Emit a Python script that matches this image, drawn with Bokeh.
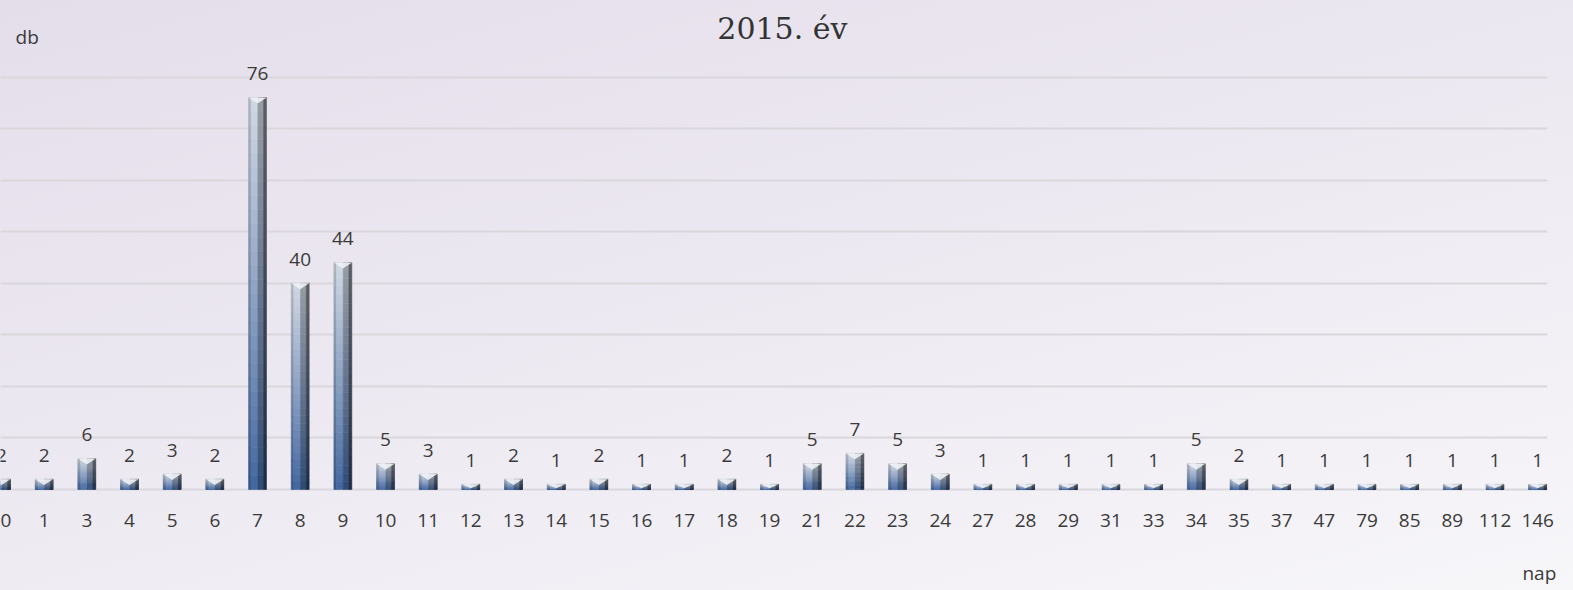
import numpy as np
from bokeh.plotting import figure
from bokeh.models import FixedTicker, Label, ColumnDataSource, LinearAxis
from bokeh.core.properties import value
from bokeh.embed import file_html
from bokeh.resources import INLINE

# ---- data ----
categories = [0, 1, 3, 4, 5, 6, 7, 8, 9, 10, 11, 12, 13, 14, 15, 16, 17, 18, 19,
              21, 22, 23, 24, 27, 28, 29, 31, 33, 34, 35, 37, 47, 79, 85, 89, 112, 146]
counts = [2, 2, 6, 2, 3, 2, 76, 40, 44, 5, 3, 1, 2, 1, 2, 1, 1, 2, 1,
          5, 7, 5, 3, 1, 1, 1, 1, 1, 5, 2, 1, 1, 1, 1, 1, 1, 1]
title_text = "2015. év"
y_label = "db"
x_label = "nap"
grid_values = [0, 10, 20, 30, 40, 50, 60, 70, 80]

n = len(categories)
xi = np.arange(n)
W = 0.42

p = figure(width=1573, height=590, output_backend="svg", toolbar_location=None,
           x_range=(-0.023, 36.23), y_range=(-0.39, 94.84),
           min_border_left=0, min_border_right=26, min_border_top=0, min_border_bottom=99)
p.background_fill_alpha = 0
p.border_fill_alpha = 0
p.outline_line_color = None
p.styles = {"background": "linear-gradient(165deg, #e4deea 0%, #ece8f1 45%, #f7f6f9 100%)"}

# grid
p.xgrid.visible = False
p.ygrid.ticker = FixedTicker(ticks=grid_values)
p.ygrid.grid_line_color = "#d9d7dc"
p.ygrid.grid_line_width = 2
p.yaxis.visible = False

TXT = "#3a3a3a"

# x axis
p.xaxis.ticker = FixedTicker(ticks=list(range(n)))
p.xaxis.major_label_overrides = {i: str(c) for i, c in enumerate(categories)}
p.xaxis.axis_line_color = None
p.xaxis.major_tick_line_color = None
p.xaxis.minor_tick_line_color = None
p.xaxis.major_label_text_font = "Open Sans"
p.xaxis.major_label_text_font_size = "19px"
p.xaxis.major_label_text_color = TXT
p.xaxis.major_label_standoff = 16

# x axis name ("nap") as a second, tick-less axis row at the bottom right
name_pos = 36.04
ax2 = LinearAxis(ticker=FixedTicker(ticks=[name_pos]), major_label_overrides={name_pos: x_label},
                 axis_line_color=None, major_tick_line_color=None, minor_tick_line_color=None,
                 major_label_text_font="Open Sans", major_label_text_font_size="19px",
                 major_label_text_color=TXT, major_label_standoff=24)
p.add_layout(ax2, "below")

# bars: vertical gradient segments x horizontal bevel columns
bottom_c = np.array([58, 92, 145])
top_c = np.array([190, 197, 207])
cols = [(0.0, 0.14, 0.92), (0.14, 0.52, 1.10), (0.52, 0.84, 0.80), (0.84, 1.0, 0.48)]
NSEG = 28
L, R, B, T, C = [], [], [], [], []
for i, v in zip(xi, counts):
    for k in range(NSEG):
        t = (k + 0.5) / NSEG
        base = bottom_c + (top_c - bottom_c) * t ** 0.9
        for a, b, f in cols:
            c = np.clip(base * f, 0, 255).astype(int)
            L.append(i - W / 2 + W * a)
            R.append(i - W / 2 + W * b)
            B.append(v * k / NSEG)
            T.append(v * (k + 1) / NSEG)
            C.append("#%02x%02x%02x" % tuple(c))
p.quad(left=L, right=R, bottom=B, top=T, fill_color=C, line_color=C, line_width=0.6)

# top bevel triangles
xs, ys = [], []
for i, v in zip(xi, counts):
    d = min(1.15, v * 0.75)
    xs.append([i - W / 2, i + W / 2, i])
    ys.append([v, v, v - d])
p.patches(xs, ys, fill_color="#eef1f5", line_color=None, fill_alpha=0.9)

# value labels
src = ColumnDataSource(dict(x=xi, y=counts, t=[str(v) for v in counts]))
p.text(x="x", y="y", text="t", source=src, text_align="center", text_baseline="alphabetic",
       y_offset=-24, text_font=value("Open Sans"), text_font_size="19px", text_color=TXT)

# titles inside the frame (upper empty area)
p.add_layout(Label(x=18.30, y=89.4, text=title_text, text_align="center", text_baseline="middle",
                   text_font="DejaVu Serif", text_font_size="30px", text_color="#333333"))
p.add_layout(Label(x=0.33, y=87.7, text=y_label, text_align="left", text_baseline="middle",
                   text_font="Open Sans", text_font_size="19px", text_color=TXT))

open("out.html", "w").write(file_html(p, INLINE))
